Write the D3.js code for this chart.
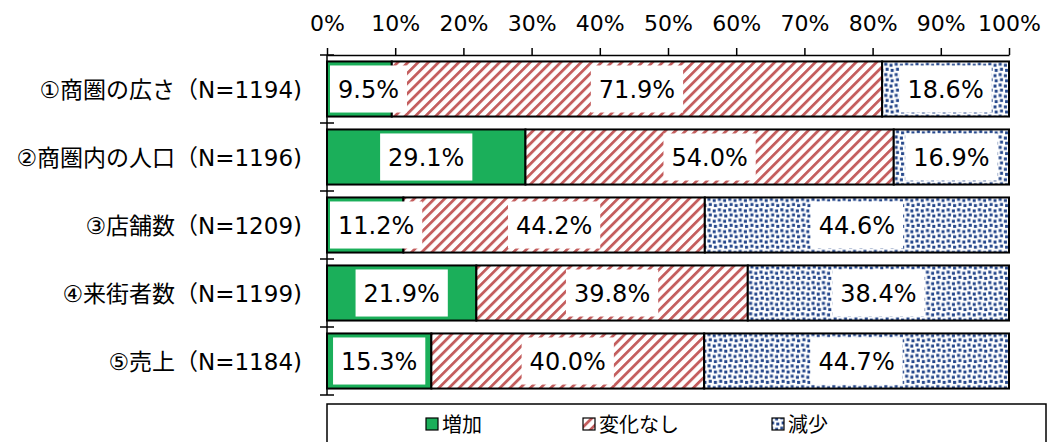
<!DOCTYPE html>
<html><head><meta charset="utf-8">
<script src="https://cdn.jsdelivr.net/npm/d3@7"></script>
<style>
body{margin:0;background:#fff;}
text{font-family:"DejaVu Sans","Noto Sans CJK JP",sans-serif;fill:#000;}
</style></head>
<body><svg id="c" width="1049" height="442"></svg>
<script>
const categories = ["①商圏の広さ（N=1194)","②商圏内の人口（N=1196)","③店舗数（N=1209)","④来街者数（N=1199)","⑤売上（N=1184)"];
const seriesNames = ["増加","変化なし","減少"];
const increase = [9.5, 29.1, 11.2, 21.9, 15.3];
const unchanged = [71.9, 54.0, 44.2, 39.8, 40.0];
const decrease = [18.6, 16.9, 44.6, 38.4, 44.7];
const tickValues = [0,10,20,30,40,50,60,70,80,90,100];

const svg = d3.select("#c");
const defs = svg.append("defs");
// hatch pattern
const P = 7.2;
const ph = defs.append("pattern").attr("id","hatch").attr("patternUnits","userSpaceOnUse")
  .attr("width",P).attr("height",P).attr("patternTransform","rotate(45)");
ph.append("rect").attr("width",P).attr("height",P).attr("fill","#fff");
ph.append("rect").attr("x",0).attr("y",0).attr("width",2.8).attr("height",P).attr("fill","#C45E5E");
// dots pattern
const D = 10.4;
const pd = defs.append("pattern").attr("id","dots").attr("patternUnits","userSpaceOnUse")
  .attr("width",D).attr("height",D);
pd.append("rect").attr("width",D).attr("height",D).attr("fill","#fff");
[[0.3,0.3],[5.5,1.4],[1.6,5.4],[6.7,6.5]].forEach(([x,y])=>{
  pd.append("rect").attr("x",x).attr("y",y).attr("width",3).attr("height",3).attr("fill","#24468A");
});
const fills = ["#1BAF5A","url(#hatch)","url(#dots)"];

const x = d3.scaleLinear().domain([0,100]).range([327,1009]).clamp(true);
const y = d3.scaleBand().domain(categories).range([55,395]).paddingInner(0.19).paddingOuter(0.095);

const rows = categories.map((c,i)=>({cat:c, v:[increase[i],unchanged[i],decrease[i]]}));
const segs = [];
rows.forEach(r=>{
  let acc=0;
  r.v.forEach((v,k)=>{ segs.push({cat:r.cat,k,v,x0:acc,x1:acc+v}); acc+=v; });
});

// y axis line with crossing ticks
const edges = [55].concat(categories.slice(1).map(c=>y(c)-(y.step()-y.bandwidth())/2)).concat([395]);
const g = svg.append("g");
g.append("line").attr("x1",327).attr("x2",327).attr("y1",55).attr("y2",395).attr("stroke","#000").attr("stroke-width",1.5);
edges.forEach(e=>{
  g.append("line").attr("x1",320).attr("x2",334).attr("y1",e).attr("y2",e).attr("stroke","#000").attr("stroke-width",1.5);
});

// top axis
const ax = svg.append("g").attr("transform","translate(0,55)")
  .call(d3.axisTop(x).tickValues(tickValues).tickFormat(d=>d+"%").tickSize(7).tickSizeOuter(0).tickPadding(17));
ax.attr("font-family",null);
ax.select(".domain").attr("stroke","#000").attr("stroke-width",1.5);
ax.selectAll(".tick line").attr("stroke","#000").attr("stroke-width",1.5);
ax.selectAll(".tick text").style("font-size","22px");

// bars
svg.append("g").selectAll("rect").data(segs).join("rect")
  .attr("x",d=>x(d.x0)).attr("width",d=>x(d.x1)-x(d.x0))
  .attr("y",d=>y(d.cat)).attr("height",y.bandwidth())
  .attr("fill",d=>fills[d.k]).attr("stroke","#000").attr("stroke-width",2);

// labels
const lg = svg.append("g");
segs.forEach(d=>{
  const t = d.v.toFixed(1)+"%";
  const tx = lg.append("text").text(t).style("font-size","24px").attr("text-anchor","middle")
    .attr("dominant-baseline","central");
  const w = tx.node().getComputedTextLength()+16;
  let cx = (x(d.x0)+x(Math.min(d.x1,100)))/2;
  const left = x(d.x0)+3;
  if (cx - w/2 < left) cx = left + w/2;
  const right = 1009-3;
  if (cx + w/2 > right) cx = right - w/2;
  const by = y(d.cat)+4, bh = y.bandwidth()-8;
  lg.append("rect").attr("x",cx-w/2).attr("y",by).attr("width",w).attr("height",bh).attr("fill","#fff");
  tx.attr("x",cx).attr("y",y(d.cat)+y.bandwidth()/2+1);
  tx.raise();
});

// category labels
svg.append("g").selectAll("text").data(categories).join("text")
  .attr("x",302).attr("y",d=>y(d)+y.bandwidth()/2+1).attr("text-anchor","end")
  .attr("dominant-baseline","central").style("font-size","23px").text(d=>d);

// legend
const leg = svg.append("g");
leg.append("rect").attr("x",327).attr("y",404).attr("width",719).attr("height",50)
  .attr("fill","#fff").attr("stroke","#000").attr("stroke-width",1.5);
const legX = [426,583,772];
seriesNames.forEach((n,k)=>{
  leg.append("rect").attr("x",legX[k]).attr("y",418).attr("width",12).attr("height",12)
    .attr("fill",fills[k]).attr("stroke","#000").attr("stroke-width",1.2);
  leg.append("text").attr("x",legX[k]+16).attr("y",425).attr("dominant-baseline","central")
    .style("font-size","20px").text(n);
});
</script></body></html>
